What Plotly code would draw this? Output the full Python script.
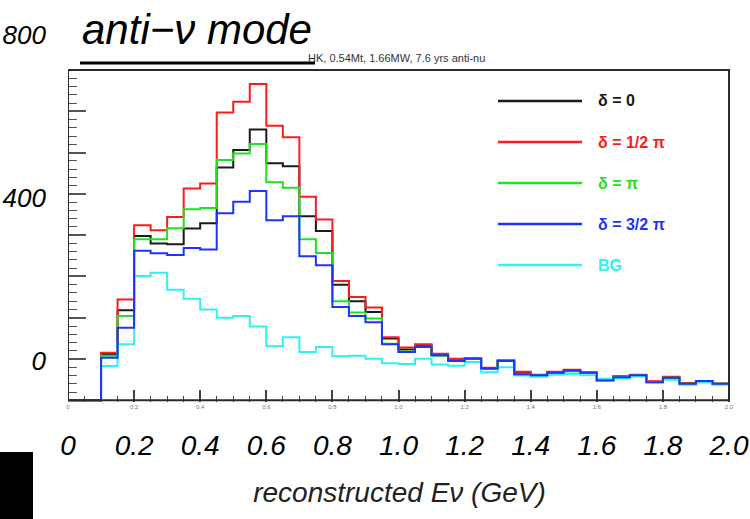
import numpy as np
import plotly.graph_objects as go

# Reconstructed neutrino energy histograms, 40 bins of 0.05 GeV from 0 to 2 GeV
bin_edges = [round(0.05 * i, 2) for i in range(41)]

delta_0 = [0, 0, 112, 218, 398, 380, 378, 416, 429, 564, 606, 656, 574, 567, 446, 410,
           280, 240, 214, 150, 123, 133, 110, 99, 101, 78, 96, 66, 61, 67, 72, 67,
           49, 58, 61, 45, 55, 41, 47, 40]
delta_half_pi = [0, 0, 115, 244, 424, 412, 444, 513, 525, 697, 723, 766, 665, 637, 493, 438,
                 289, 250, 225, 153, 128, 136, 113, 101, 102, 79, 97, 69, 62, 69, 74, 68,
                 50, 59, 62, 46, 57, 42, 47, 40]
delta_pi = [0, 0, 108, 204, 390, 390, 417, 463, 466, 582, 598, 621, 528, 515, 390, 357,
            240, 213, 198, 137, 118, 130, 108, 96, 100, 76, 95, 64, 60, 66, 70, 66,
            48, 57, 60, 44, 55, 40, 45, 40]
delta_3half_pi = [0, 0, 103, 176, 362, 356, 352, 369, 365, 453, 481, 507, 436, 446, 349, 327,
                  226, 204, 189, 136, 117, 129, 109, 95, 101, 77, 95, 63, 61, 67, 72, 67,
                  48, 56, 61, 44, 55, 40, 47, 40]
background = [0, 0, 83, 136, 301, 309, 268, 246, 220, 200, 204, 179, 131, 153, 117, 129,
              107, 108, 101, 90, 88, 101, 87, 84, 93, 68, 80, 60, 57, 62, 64, 61,
              52, 53, 58, 44, 50, 38, 43, 38]

series_names = ["δ = 0", "δ = 1/2 π", "δ = π", "δ = 3/2 π", "BG"]
series_values = [delta_0, delta_half_pi, delta_pi, delta_3half_pi, background]
series_colors = ["#1a1a1a", "#ff1a1a", "#22e022", "#1a33ff", "#2ef2f2"]
draw_order = [0, 1, 2, 4, 3]

x_tick_vals = [0, 0.2, 0.4, 0.6, 0.8, 1.0, 1.2, 1.4, 1.6, 1.8, 2.0]
x_tick_text = ["0", "0.2", "0.4", "0.6", "0.8", "1.0", "1.2", "1.4", "1.6", "1.8", "2.0"]
y_label_vals = [0, 400, 800]
y_label_text = ["0", "400", "800"]

# Canvas geometry (pixels)
W, H = 750, 519
L, R, T, B = 68, 19, 20, 117
PW, PH = W - L - R, H - T - B

def px(x):
    return (x - L) / PW

def py(y):
    return (H - B - y) / PH

FONT = "Liberation Sans, Arial, sans-serif"

fig = go.Figure()

for i in draw_order:
    vals = series_values[i]
    fig.add_trace(go.Scatter(
        x=bin_edges, y=list(vals) + [vals[-1]],
        mode="lines", line=dict(shape="hv", color=series_colors[i], width=2),
        name=series_names[i], showlegend=False, hoverinfo="skip",
    ))

# empty traces that carry the overlay axes
fig.add_trace(go.Scatter(x=[], y=[], xaxis="x", yaxis="y2", showlegend=False))
fig.add_trace(go.Scatter(x=[], y=[], xaxis="x2", yaxis="y", showlegend=False))

fig.update_layout(
    width=W, height=H,
    margin=dict(l=L, r=R, t=T, b=B, autoexpand=False),
    paper_bgcolor="white", plot_bgcolor="white",
    showlegend=False,
    font=dict(family=FONT, color="black"),
    xaxis=dict(
        range=[0, 2.006], showgrid=False, zeroline=False, showline=False,
        tickmode="array", tickvals=x_tick_vals, ticktext=x_tick_text,
        ticks="inside", ticklen=12, tickwidth=1.5, tickcolor="#444",
        minor=dict(dtick=0.05, tick0=0, ticks="inside", ticklen=6, tickcolor="#444", tickwidth=1.2),
        tickfont=dict(size=28, style="italic", color="black", family=FONT),
        ticklabelstandoff=24,
        title=dict(text="reconstructed Eν (GeV)", standoff=22,
                   font=dict(size=28, style="italic", color="#222", family=FONT)),
    ),
    xaxis2=dict(
        range=[0, 2.006], overlaying="x", anchor="y", side="bottom",
        showgrid=False, zeroline=False, showline=False, ticks="",
        tickmode="array", tickvals=x_tick_vals, ticktext=x_tick_text,
        tickfont=dict(size=6, color="#777", family=FONT), ticklabelstandoff=0,
    ),
    yaxis=dict(
        range=[-4, 921], showgrid=False, zeroline=False, showline=False,
        showticklabels=False,
        tickmode="array", tickvals=list(range(0, 801, 100)),
        ticks="inside", ticklen=18, tickwidth=1.5, tickcolor="#555",
        minor=dict(tickmode="array", tickvals=list(range(0, 801, 20)),
                   ticks="inside", ticklen=9, tickcolor="#555", tickwidth=1.2),
    ),
    yaxis2=dict(
        range=[-100.6, 836.8], overlaying="y", side="left", anchor="x",
        showgrid=False, zeroline=False, showline=False, ticks="",
        tickmode="array", tickvals=y_label_vals, ticktext=y_label_text,
        tickfont=dict(size=26, style="italic", color="black", family=FONT),
        ticklabelstandoff=21,
    ),
)

shapes = [
    # histogram frame
    dict(type="rect", xref="x", yref="y", x0=0, x1=2.0, y0=0, y1=800,
         line=dict(color="#2a2a2a", width=2), layer="above"),
    # title underline
    dict(type="line", xref="paper", yref="paper", x0=px(80), x1=px(315),
         y0=py(63), y1=py(63), line=dict(color="black", width=3)),
    # dark corner patch
    dict(type="rect", xref="paper", yref="paper", x0=px(0), x1=px(33),
         y0=py(452), y1=py(519), line=dict(width=0), fillcolor="black"),
]

annotations = [
    dict(text="anti−ν mode", xref="paper", yref="paper", x=px(80), y=py(29),
         xanchor="left", yanchor="middle", showarrow=False,
         font=dict(size=42, style="italic", color="black", family=FONT)),
    dict(text="HK, 0.54Mt, 1.66MW, 7.6 yrs anti-nu", xref="paper", yref="paper",
         x=px(306), y=py(58), xanchor="left", yanchor="middle", showarrow=False,
         font=dict(size=11, color="#333", family="Liberation Sans Narrow, " + FONT)),
]

# legend: sample line plus coloured label for each series
legend_rows = [101, 142, 183, 224, 265]
for name, color, row in zip(series_names, series_colors, legend_rows):
    shapes.append(dict(type="line", xref="paper", yref="paper",
                       x0=px(498), x1=px(582), y0=py(row), y1=py(row),
                       line=dict(color=color, width=2.5)))
    annotations.append(dict(text="<b>" + name + "</b>", xref="paper", yref="paper",
                            x=px(596), y=py(row), xanchor="left", yanchor="middle",
                            showarrow=False,
                            font=dict(size=16, color=color, family=FONT)))

fig.update_layout(shapes=shapes, annotations=annotations)

fig.write_html("out.html")
